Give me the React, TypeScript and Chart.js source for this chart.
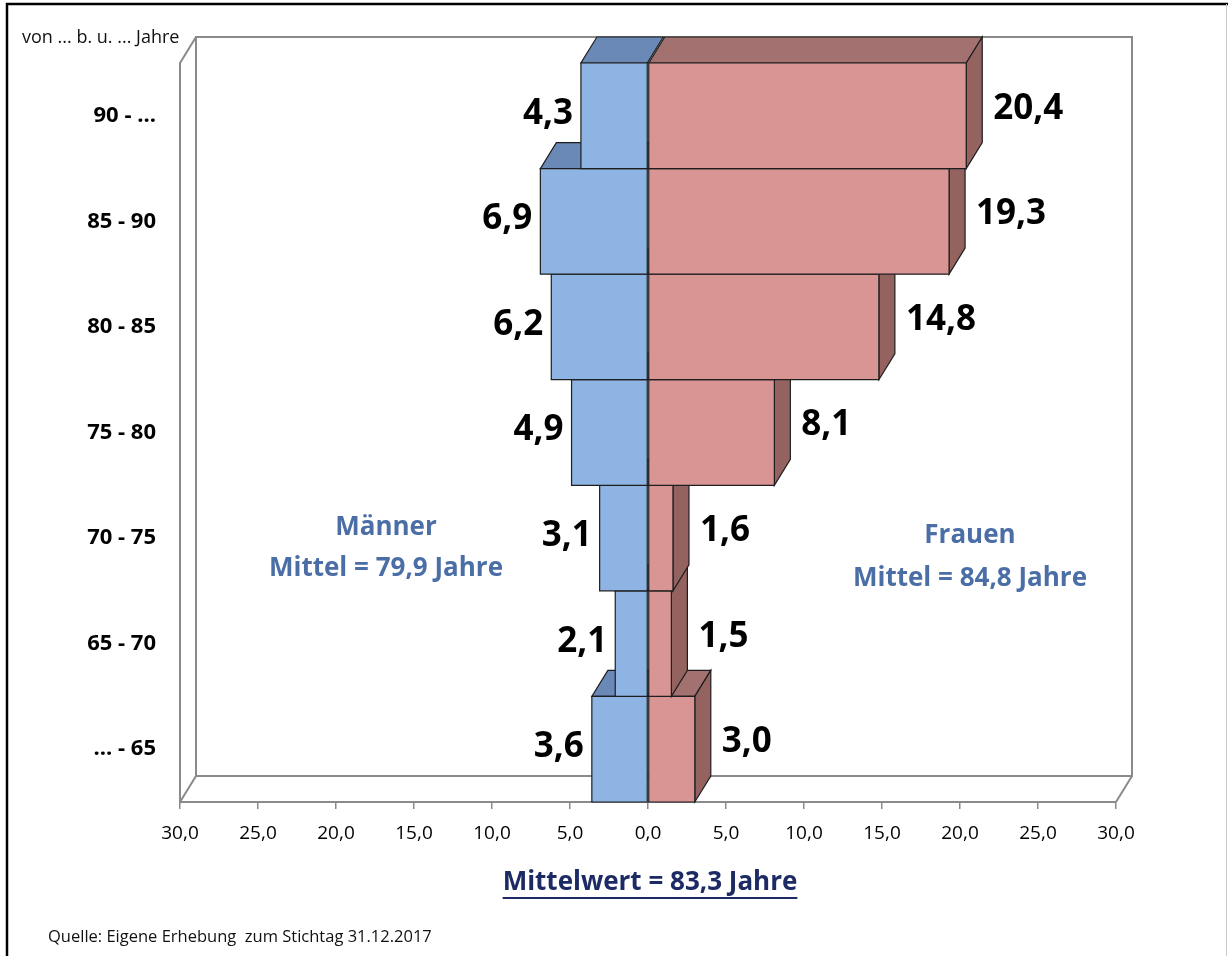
import React, { useEffect, useRef } from "react";
import { Chart, registerables } from "chart.js";

Chart.register(...registerables);

// ---- data ----
const ageGroups = ["90 - ...", "85 - 90", "80 - 85", "75 - 80", "70 - 75", "65 - 70", "... - 65"];
const menValues = [4.3, 6.9, 6.2, 4.9, 3.1, 2.1, 3.6];
const womenValues = [20.4, 19.3, 14.8, 8.1, 1.6, 1.5, 3.0];
const axisMin = -30;
const axisMax = 30;
const axisStep = 5;

const yAxisTitle = "von ... b. u. ... Jahre";
const menTitle = "Männer";
const menMean = "Mittel = 79,9 Jahre";
const womenTitle = "Frauen";
const womenMean = "Mittel = 84,8 Jahre";
const overallMean = "Mittelwert = 83,3 Jahre";
const sourceNote = "Quelle: Eigene Erhebung  zum Stichtag 31.12.2017";

// ---- styling ----
const FONT = "'Open Sans', 'Noto Sans', sans-serif";
const DX = 16;
const DY = -26;
const MALE_FRONT = "#8DB4E2";
const MALE_TOP = "#6A89B7";
const FEMALE_FRONT = "#D99594";
const FEMALE_TOP = "#A3716F";
const FEMALE_SIDE = "#94625F";
const EDGE = "#1e1e1e";
const WALL = "#8a8a8a";
const NOTE_BLUE = "#4A6EA5";
const NAVY = "#1C2B63";

const fmt = (v: number) => Math.abs(v).toFixed(1).replace(".", ",");

function poly(ctx: CanvasRenderingContext2D, pts: number[][], fill: string) {
  ctx.beginPath();
  ctx.moveTo(pts[0][0], pts[0][1]);
  for (let i = 1; i < pts.length; i++) ctx.lineTo(pts[i][0], pts[i][1]);
  ctx.closePath();
  ctx.fillStyle = fill;
  ctx.fill();
  ctx.strokeStyle = EDGE;
  ctx.lineWidth = 1.2;
  ctx.stroke();
}

const framePlugin = {
  id: "frame",
  beforeDraw(chart: any) {
    const ctx = chart.ctx as CanvasRenderingContext2D;
    const w = chart.width, h = chart.height;
    ctx.save();
    ctx.fillStyle = "#ffffff";
    ctx.fillRect(0, 0, w, h);
    ctx.strokeStyle = "#000";
    ctx.lineWidth = 2.5;
    ctx.beginPath();
    ctx.moveTo(7, h);
    ctx.lineTo(7, 4);
    ctx.lineTo(w, 4);
    ctx.stroke();
    ctx.strokeStyle = "#c8c8c8";
    ctx.lineWidth = 1;
    ctx.beginPath();
    ctx.moveTo(w - 1.5, 4);
    ctx.lineTo(w - 1.5, h);
    ctx.stroke();
    ctx.restore();
  },
  beforeDatasetsDraw(chart: any) {
    const ctx = chart.ctx as CanvasRenderingContext2D;
    const { left: L, right: R, top: T, bottom: B } = chart.chartArea;
    ctx.save();
    ctx.strokeStyle = WALL;
    ctx.lineWidth = 2;
    // back wall
    ctx.strokeRect(L + DX, T + DY, R - L, B - T);
    // left wall + floor edges
    ctx.beginPath();
    ctx.moveTo(L + DX, T + DY);
    ctx.lineTo(L, T);
    ctx.lineTo(L, B);
    ctx.lineTo(L + DX, B + DY);
    ctx.moveTo(R, B);
    ctx.lineTo(R + DX, B + DY);
    ctx.stroke();
    ctx.restore();
  },
  afterDatasetsDraw(chart: any) {
    const ctx = chart.ctx as CanvasRenderingContext2D;
    const metaM = chart.getDatasetMeta(0);
    const metaF = chart.getDatasetMeta(1);
    const n = ageGroups.length;
    ctx.save();
    for (let i = n - 1; i >= 0; i--) {
      const m = metaM.data[i].getProps(["x", "y", "base", "height"], true);
      const f = metaF.data[i].getProps(["x", "y", "base", "height"], true);
      const top = m.y - m.height / 2;
      const bot = m.y + m.height / 2;
      const mL = Math.min(m.x, m.base), mR = Math.max(m.x, m.base);
      const fL = Math.min(f.x, f.base), fR = Math.max(f.x, f.base);
      // top faces
      poly(ctx, [[mL, top], [mR, top], [mR + DX, top + DY], [mL + DX, top + DY]], MALE_TOP);
      poly(ctx, [[fL, top], [fR, top], [fR + DX, top + DY], [fL + DX, top + DY]], FEMALE_TOP);
      // side face (right)
      poly(ctx, [[fR, top], [fR + DX, top + DY], [fR + DX, bot + DY], [fR, bot]], FEMALE_SIDE);
      // front faces
      poly(ctx, [[mL, top], [mR, top], [mR, bot], [mL, bot]], MALE_FRONT);
      poly(ctx, [[fL, top], [fR, top], [fR, bot], [fL, bot]], FEMALE_FRONT);
    }
    // value labels
    ctx.fillStyle = "#000";
    ctx.font = `bold 35px ${FONT}`;
    ctx.textBaseline = "middle";
    for (let i = 0; i < n; i++) {
      const m = metaM.data[i].getProps(["x", "y", "base"], true);
      const f = metaF.data[i].getProps(["x", "y", "base"], true);
      ctx.textAlign = "right";
      ctx.fillText(fmt(menValues[i]), Math.min(m.x, m.base) - 8, m.y - 2);
      ctx.textAlign = "left";
      ctx.fillText(fmt(womenValues[i]), Math.max(f.x, f.base) + DX + 11, f.y - 7);
    }
    ctx.restore();
  },
  afterDraw(chart: any) {
    const ctx = chart.ctx as CanvasRenderingContext2D;
    ctx.save();
    ctx.textBaseline = "middle";
    // y axis title
    ctx.fillStyle = "#111";
    ctx.textAlign = "left";
    ctx.font = `18px ${FONT}`;
    ctx.fillText(yAxisTitle, 22, 38);
    // group annotations
    ctx.fillStyle = NOTE_BLUE;
    ctx.textAlign = "center";
    ctx.font = `bold 26px ${FONT}`;
    ctx.fillText(menTitle, 386, 528);
    ctx.fillText(menMean, 386, 569);
    ctx.fillText(womenTitle, 970, 536);
    ctx.fillText(womenMean, 970, 579);
    // overall mean
    ctx.fillStyle = NAVY;
    ctx.font = `bold 26px ${FONT}`;
    ctx.fillText(overallMean, 650, 883);
    const w = ctx.measureText(overallMean).width;
    ctx.strokeStyle = NAVY;
    ctx.lineWidth = 2;
    ctx.beginPath();
    ctx.moveTo(650 - w / 2, 898);
    ctx.lineTo(650 + w / 2, 898);
    ctx.stroke();
    // source
    ctx.fillStyle = "#111";
    ctx.textAlign = "left";
    ctx.font = `16.5px ${FONT}`;
    ctx.fillText(sourceNote, 48, 937);
    ctx.restore();
  },
};

export default function App() {
  const canvasRef = useRef<HTMLCanvasElement | null>(null);

  useEffect(() => {
    if (!canvasRef.current) return;
    const chart = new Chart(canvasRef.current, {
      type: "bar",
      data: {
        labels: ageGroups,
        datasets: [
          {
            label: "Männer",
            data: menValues.map((v) => -v),
            backgroundColor: "rgba(0,0,0,0)",
            borderWidth: 0,
            categoryPercentage: 1,
            barPercentage: 1,
          },
          {
            label: "Frauen",
            data: womenValues,
            backgroundColor: "rgba(0,0,0,0)",
            borderWidth: 0,
            categoryPercentage: 1,
            barPercentage: 1,
          },
        ],
      },
      options: {
        indexAxis: "y",
        animation: false,
        responsive: false,
        maintainAspectRatio: false,
        layout: { padding: { top: 63, right: 112, left: 0, bottom: 0 } },
        plugins: {
          legend: { display: false },
          tooltip: { enabled: false },
        },
        scales: {
          x: {
            type: "linear",
            stacked: true,
            min: axisMin,
            max: axisMax,
            ticks: {
              stepSize: axisStep,
              callback: (v: any) => fmt(Number(v)),
              color: "#000",
              font: { family: FONT, size: 19 },
              padding: 13,
              maxRotation: 0,
              autoSkip: false,
            },
            grid: {
              drawOnChartArea: false,
              drawTicks: true,
              tickLength: 7,
              color: WALL,
              lineWidth: 1.5,
            },
            border: { display: true, color: WALL, width: 2 },
            afterFit: (s: any) => {
              s.height = 154;
            },
          },
          y: {
            type: "category",
            stacked: true,
            ticks: {
              color: "#000",
              font: { family: FONT, size: 22, weight: "bold" },
              padding: 24,
            },
            grid: { display: false, drawTicks: false },
            border: { display: false },
            afterFit: (s: any) => {
              s.width = 180;
            },
          },
        },
      },
      plugins: [framePlugin],
    } as any);
    return () => chart.destroy();
  }, []);

  return (
    <div style={{ position: "fixed", left: 0, top: 0, width: 1228, height: 956, background: "#fff" }}>
      <canvas ref={canvasRef} width={1228} height={956} style={{ display: "block" }} />
    </div>
  );
}
